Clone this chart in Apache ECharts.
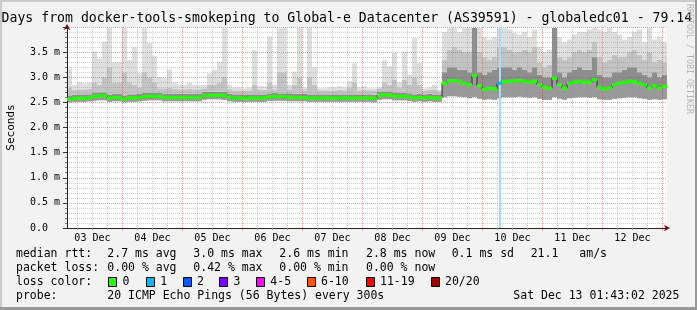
<!DOCTYPE html>
<html><head><meta charset="utf-8">
<script src="https://cdn.jsdelivr.net/npm/echarts@6/dist/echarts.min.js"></script>
<style>html,body{margin:0;padding:0;background:#f2f2f2}#c{width:697px;height:310px}</style>
</head><body><div id="c"></div>
<script>
// ---------------- data ----------------
const titleText = 'Days from docker-tools-smokeping to Global-e Datacenter (AS39591) - globaledc01 - 79.14';
const dayLabels = ['03 Dec','04 Dec','05 Dec','06 Dec','07 Dec','08 Dec','09 Dec','10 Dec','11 Dec','12 Dec'];
const yLabelUnit = ' m';
// median rtt per 2-hour column (ms)
const median = [
2.565,2.58,2.585,2.585,2.59,2.62,2.63,2.63,2.585,2.597,
2.597,2.565,2.59,2.59,2.595,2.615,2.62,2.62,2.62,2.6,
2.597,2.597,2.597,2.6,2.597,2.6,2.6,2.635,2.64,2.64,
2.64,2.635,2.6,2.585,2.585,2.585,2.585,2.585,2.59,2.59,
2.61,2.615,2.61,2.61,2.605,2.597,2.597,2.597,2.585,2.585,
2.585,2.59,2.585,2.585,2.585,2.59,2.585,2.585,2.585,2.59,
2.585,2.58,2.64,2.65,2.645,2.625,2.62,2.62,2.61,2.59,
2.595,2.59,2.595,2.585,2.59,2.88,2.93,2.93,2.92,2.88,
2.85,3.03,2.83,2.76,2.78,2.77,2.88,2.91,2.92,2.925,
2.935,2.92,2.9,2.92,2.85,2.8,2.78,2.98,2.85,2.78,
2.88,2.9,2.92,2.9,2.9,2.95,2.8,2.77,2.78,2.85,
2.88,2.9,2.92,2.91,2.88,2.85,2.78,2.83,2.78,2.82];
// smoke: lowest ping
const smokeLow = [
2.5,2.51,2.51,2.51,2.52,2.53,2.54,2.54,2.51,2.52,
2.52,2.5,2.51,2.51,2.52,2.53,2.54,2.54,2.54,2.52,
2.52,2.52,2.52,2.52,2.52,2.52,2.52,2.55,2.56,2.56,
2.56,2.55,2.52,2.51,2.51,2.51,2.51,2.51,2.51,2.51,
2.53,2.53,2.53,2.53,2.52,2.52,2.52,2.52,2.51,2.51,
2.51,2.51,2.51,2.51,2.51,2.51,2.51,2.51,2.51,2.51,
2.51,2.5,2.55,2.56,2.56,2.54,2.54,2.54,2.53,2.51,
2.52,2.51,2.52,2.51,2.51,2.6,2.62,2.62,2.61,2.6,
2.58,2.6,2.57,2.55,2.56,2.55,2.58,2.6,2.6,2.6,
2.61,2.6,2.59,2.6,2.57,2.55,2.55,2.6,2.57,2.55,
2.58,2.59,2.6,2.6,2.59,2.6,2.56,2.55,2.55,2.57,
2.58,2.59,2.6,2.6,2.58,2.57,2.55,2.56,2.55,2.56];
// smoke: top of dark core
const smokeDark = [
2.64,2.65,2.66,2.66,2.66,2.69,2.7,2.7,2.66,2.67,
2.67,2.64,2.66,2.66,2.67,2.69,2.69,2.69,2.69,2.67,
2.67,2.67,2.67,2.67,2.67,2.67,2.67,2.71,2.71,2.71,
2.71,2.71,2.67,2.66,2.66,2.66,2.66,2.66,2.66,2.66,
2.68,2.69,2.68,2.68,2.68,2.67,2.67,2.67,2.66,2.66,
2.66,2.66,2.66,2.66,2.66,2.66,2.66,2.66,2.66,2.66,
2.66,2.65,2.71,2.72,2.72,2.7,2.69,2.69,2.68,2.66,
2.67,2.66,2.67,2.66,2.66,3.1,3.2,3.2,3.15,3.15,
3.1,3.98,3.1,3.05,3.1,3.15,3.2,3.2,3.2,3.15,
3.2,3.15,3.1,3.2,3.05,3.0,3.0,3.98,3.1,3.0,
3.1,3.15,3.2,3.15,3.15,3.4,3.05,3.0,3.0,3.1,
3.1,3.15,3.2,3.2,3.1,3.05,3.0,3.1,3.0,3.05];
// smoke: top of middle band
const smokeMid = [
2.8,2.75,2.76,2.76,2.77,2.9,2.85,3.0,3.2,2.9,
2.9,3.1,2.9,2.85,2.8,3.1,3.0,2.9,2.78,2.78,
2.8,2.77,2.76,2.76,2.77,2.76,2.76,2.78,2.85,2.85,
2.9,3.0,2.76,2.74,2.74,2.74,2.74,2.85,2.75,2.75,
2.9,2.76,3.1,3.1,2.76,2.85,3.0,2.74,3.0,2.85,
2.74,2.74,2.74,2.74,2.75,2.74,2.8,2.9,2.74,2.75,
2.74,2.74,2.78,2.9,2.85,2.95,2.8,2.95,2.85,3.0,
2.85,2.74,2.75,2.76,2.72,3.35,3.55,3.6,3.55,3.5,
3.5,3.98,3.5,3.4,3.35,3.4,3.6,3.6,3.55,3.5,
3.5,3.55,3.5,3.6,3.3,3.2,3.25,3.98,3.4,3.35,
3.4,3.5,3.55,3.5,3.55,3.7,3.4,3.3,3.35,3.45,
3.4,3.4,3.5,3.55,3.45,3.35,3.5,3.3,3.35,3.3];
// smoke: highest ping
const smokeHigh = [
3.18,2.85,2.9,2.88,2.9,3.51,3.37,3.71,3.98,3.3,
3.3,3.98,3.34,3.6,3.08,3.98,3.68,3.42,3.0,2.98,
3.15,2.9,2.85,2.85,2.89,2.85,2.85,2.85,3.08,3.15,
3.31,3.98,2.85,2.8,2.8,2.78,2.8,3.54,2.82,2.82,
3.81,2.85,3.98,3.98,2.85,3.11,3.98,2.8,3.98,3.2,
2.78,2.78,2.8,2.8,2.82,2.8,2.92,3.28,2.8,2.82,
2.78,2.78,2.8,3.34,3.22,3.48,2.9,3.51,3.05,3.78,
3.28,2.78,2.8,2.85,2.75,3.9,3.98,3.98,3.9,3.98,
3.98,3.98,3.98,3.8,3.75,3.8,3.98,3.98,3.95,3.88,
3.85,3.9,3.8,3.95,3.6,3.5,3.55,3.98,3.8,3.7,
3.75,3.85,3.9,3.9,3.95,3.98,3.95,3.9,3.98,3.9,
3.85,3.75,3.8,3.9,3.95,3.7,3.98,3.75,3.8,3.7];
// packet loss events: column index and lost pings
const lossCols = [86];
const lossPings = [1];
const lossLegend = ['0','1','2','3','4-5','6-10','11-19','20/20'];
const lossColors = ['#26ff00','#00b8ff','#0059ff','#7e00ff','#ff00ff','#ff5500','#ff0000','#a10000'];
const lossBgColor = '#a3ddf6';
const rttStats = ['2.7 ms avg','3.0 ms max','2.6 ms min','2.8 ms now','0.1 ms sd','21.1','am/s'];
const lossStats = ['0.00 % avg','0.42 % max','0.00 % min','0.00 % now'];
const probeText = '20 ICMP Echo Pings (56 Bytes) every 300s';
const stampText = 'Sat Dec 13 01:43:02 2025';
const rowHeads = ['median rtt:','packet loss:','loss color:','probe:'];
const watermark = 'RRDTOOL / TOBI OETIKER';

// ---------------- build ----------------
const MONO = '"DejaVu Sans Mono", monospace';
const GRID = 'rgba(140,140,140,0.42)';
const MGRID = 'rgba(200,30,30,0.42)';
const cols = median.map((_, i) => String(i));
const fine = Array.from({length: 1441}, (_, k) => String(k)); // 10-minute steps
const MAJ = 133, LBL = 61, DAY = 144, SIX = 36;
const isMajor = k => (k - MAJ) % DAY === 0;
const isMinor = k => (k - MAJ) % SIX === 0 && !isMajor(k);
const isLabel = k => (k - LBL) % DAY === 0 && k >= LBL;
const diff = (a, b) => a.map((v, i) => Math.max(0, +(v - b[i]).toFixed(4)));
const lossAt = median.map((_, i) => { const p = lossCols.indexOf(i); return p < 0 ? 0 : lossPings[p]; });
const lossIdx = n => n === 0 ? 0 : n === 1 ? 1 : n === 2 ? 2 : n === 3 ? 3 : n <= 5 ? 4 : n <= 10 ? 5 : n <= 19 ? 6 : 7;
const MED_H = 0.066;

const barBase = {type: 'bar', stack: 'smoke', xAxisIndex: 0, yAxisIndex: 0, barCategoryGap: '0%', silent: true, animation: false};

const graphics = [];
graphics.push({type: 'rect', shape: {x: 0, y: 0, width: 697, height: 2}, style: {fill: '#cbcbcb'}, silent: true});
graphics.push({type: 'rect', shape: {x: 0, y: 0, width: 2, height: 310}, style: {fill: '#cbcbcb'}, silent: true});
graphics.push({type: 'rect', shape: {x: 695, y: 0, width: 2, height: 310}, style: {fill: '#999999'}, silent: true});
graphics.push({type: 'rect', shape: {x: 0, y: 307, width: 697, height: 3}, style: {fill: '#999999'}, silent: true});
const txt = (s, x, y, size, fill, extra) => Object.assign({type: 'text', x: x, y: y, silent: true,
  style: {text: s, font: size + 'px ' + MONO, fill: fill || '#000', align: 'left', verticalAlign: 'middle'}}, extra || {});
graphics.push(txt(titleText, 1.5, 18.5, 13.2));
graphics.push(txt(watermark, 689, 4, 8.3, '#b4b4b4', {rotation: -Math.PI / 2}));
const rowY = [254.3, 268.3, 282.3, 296.3];
const statX = [107.3, 193.3, 279.3, 366, 451.7, 530.7, 579.3];
rowHeads.forEach((h, r) => graphics.push(txt(h, 16, rowY[r], 11.5)));
rttStats.forEach((s, i) => graphics.push(txt(s, statX[i], rowY[0], 11.5)));
lossStats.forEach((s, i) => graphics.push(txt(s, statX[i], rowY[1], 11.5)));
const boxX = [108.3, 146, 182.7, 219.3, 256, 306.7, 365.7, 430.7];
lossLegend.forEach((s, i) => {
  graphics.push({type: 'rect', silent: true, shape: {x: Math.round(boxX[i]) + 0.5, y: 277.5, width: 8, height: 9},
    style: {fill: lossColors[i], stroke: '#000', lineWidth: 1}});
  graphics.push(txt(s, boxX[i] + 14.3, rowY[2], 11.5));
});
graphics.push(txt(probeText, 107.3, rowY[3], 11.5));
graphics.push(txt(stampText, 513.3, rowY[3], 11.5));

const chart = echarts.init(document.getElementById('c'), null, {renderer: 'canvas', width: 697, height: 310});
chart.setOption({
  animation: false,
  backgroundColor: '#f2f2f2',
  grid: {left: 67, top: 27, width: 600, height: 201, show: true, backgroundColor: '#ffffff', borderWidth: 0,
    containLabel: false, outerBoundsMode: 'none'},
  xAxis: [
    {type: 'category', data: cols, boundaryGap: true, show: false},
    {type: 'category', data: fine, boundaryGap: false, position: 'bottom', z: 2.5,
      axisLine: {show: true, lineStyle: {color: '#7f0000', width: 1}, symbol: ['none', 'arrow'], symbolSize: [5, 6], symbolOffset: [0, 3]},
      axisTick: {show: false}, axisLabel: {show: false}, splitLine: {show: false}},
    {type: 'category', data: fine, boundaryGap: false, position: 'bottom', z: 3,
      axisLine: {show: true, lineStyle: {color: '#222', width: 1}},
      axisTick: {show: true, interval: isMinor, length: 2, lineStyle: {color: '#999'}},
      axisLabel: {show: false},
      splitLine: {show: true, interval: isMinor, lineStyle: {color: GRID, type: [1, 1], width: 1}}},
    {type: 'category', data: fine, boundaryGap: false, position: 'bottom', z: 3.1,
      axisLine: {show: false},
      axisTick: {show: true, interval: isMajor, length: 3, lineStyle: {color: MGRID}},
      axisLabel: {show: true, interval: isLabel, margin: 5, fontFamily: MONO, fontSize: 10, color: '#000',
        formatter: v => dayLabels[(Number(v) - LBL) / DAY] || ''},
      splitLine: {show: true, interval: isMajor, lineStyle: {color: MGRID, type: [1, 1], width: 1}}}
  ],
  yAxis: [
    {type: 'value', min: 0, max: 4, interval: 0.5, position: 'left', z: 3,
      name: 'Seconds', nameLocation: 'middle', nameGap: 50, nameTextStyle: {fontFamily: MONO, fontSize: 11, color: '#000'},
      axisLine: {show: true, lineStyle: {color: '#222', width: 1}},
      axisTick: {show: true, length: 4, lineStyle: {color: '#333'}},
      minorTick: {show: true, splitNumber: 5, length: 2, lineStyle: {color: '#777'}},
      axisLabel: {margin: 7, fontFamily: MONO, fontSize: 10, color: '#000', showMaxLabel: false,
        formatter: v => v === 0 ? '0.0  ' : v.toFixed(1) + yLabelUnit},
      splitLine: {show: true, lineStyle: {color: MGRID, type: [1, 1], width: 1}},
      minorSplitLine: {show: true, lineStyle: {color: GRID, type: [1, 1], width: 1}}},
    {type: 'value', min: 0, max: 4, position: 'left', z: 2.5,
      axisLine: {show: true, lineStyle: {color: '#7f0000', width: 1}, symbol: ['none', 'arrow'], symbolSize: [5, 6], symbolOffset: [0, 3]},
      axisTick: {show: false}, axisLabel: {show: false}, splitLine: {show: false}}
  ],
  series: [
    Object.assign({}, barBase, {name: 'base', data: smokeLow, itemStyle: {color: 'rgba(0,0,0,0)'}}),
    Object.assign({}, barBase, {name: 'below', data: diff(median, smokeLow), itemStyle: {color: '#9a9a9a'}}),
    Object.assign({}, barBase, {name: 'dark', data: diff(smokeDark, median), itemStyle: {color: '#8e8e8e'}}),
    Object.assign({}, barBase, {name: 'mid', data: diff(smokeMid, smokeDark), itemStyle: {color: '#c3c3c3'}}),
    Object.assign({}, barBase, {name: 'light', data: diff(smokeHigh, smokeMid), itemStyle: {color: '#dedede'},
      markLine: {silent: true, animation: false, symbol: ['none', 'none'], label: {show: false},
        lineStyle: {color: lossBgColor, width: 2, type: 'solid'},
        data: lossCols.map(c => ({xAxis: c}))}}),
    {type: 'line', name: 'steps', xAxisIndex: 0, yAxisIndex: 0, data: median, step: 'middle', symbol: 'none',
      silent: true, z: 5.5, lineStyle: {color: '#2a2a2a', width: 1}},
    {type: 'custom', name: 'median', xAxisIndex: 0, yAxisIndex: 0, silent: true, z: 6,
      data: median.map((v, i) => [i, v, lossAt[i]]),
      renderItem: (params, api) => {
        const c = api.coord([api.value(0), api.value(1)]);
        const w = api.size([1, 0])[0];
        const h = api.size([0, MED_H])[1];
        return {type: 'rect', shape: {x: c[0] - w / 2, y: c[1] - h / 2, width: w, height: h},
          style: {fill: lossColors[lossIdx(api.value(2))]}};
      }}
  ],
  graphic: graphics
});
</script></body></html>
